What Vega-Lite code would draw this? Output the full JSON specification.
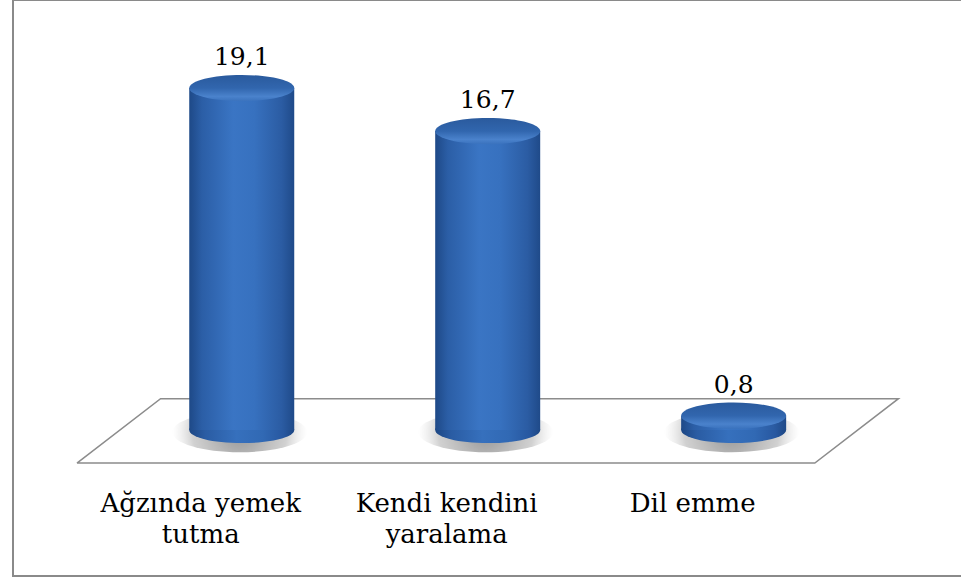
{
  "$schema": "https://vega.github.io/schema/vega-lite/v6.json",
  "width": 953,
  "height": 576,
  "autosize": {"type": "none"},
  "padding": {"left": 8, "top": 0, "right": 0, "bottom": 2},
  "background": "white",
  "config": {
    "view": {"stroke": null},
    "locale": {"number": {"decimal": ",", "thousands": ".", "grouping": [3], "currency": ["", " ₺"]}}
  },
  "datasets": {
    "behaviours": [
      {"order": 1, "behaviour": "Ağzında yemek\ntutma", "value": 19.1},
      {"order": 2, "behaviour": "Kendi kendini\nyaralama", "value": 16.7},
      {"order": 3, "behaviour": "Dil emme", "value": 0.8}
    ],
    "floor": [
      {"k": 0, "u": 0.33, "v": -1.85},
      {"k": 1, "u": 3.33, "v": -1.85},
      {"k": 2, "u": 3.67, "v": 1.75},
      {"k": 3, "u": 0.67, "v": 1.75},
      {"k": 4, "u": 0.33, "v": -1.85}
    ],
    "frame": [
      {"k": 0, "u": 3.99, "v": 24.022},
      {"k": 1, "u": 0.07, "v": 24.022},
      {"k": 2, "u": 0.07, "v": -8.157},
      {"k": 3, "u": 3.99, "v": -8.157}
    ]
  },
  "layer": [
    {
      "description": "outer frame, open on the right",
      "data": {"name": "frame"},
      "mark": {"type": "line", "color": "#8a8a8a", "strokeWidth": 2, "clip": false},
      "encoding": {
        "x": {"field": "u", "type": "quantitative", "scale": {"domain": [0.07, 3.904], "nice": false, "zero": false}, "axis": null},
        "y": {"field": "v", "type": "quantitative", "scale": {"domain": [-8.157, 24.022], "nice": false, "zero": false}, "axis": null},
        "order": {"field": "k"}
      }
    },
    {
      "description": "perspective floor under the cylinders",
      "data": {"name": "floor"},
      "mark": {"type": "line", "color": "#8c8c8c", "strokeWidth": 1.5},
      "encoding": {
        "x": {"field": "u", "type": "quantitative", "axis": null},
        "y": {"field": "v", "type": "quantitative", "axis": null},
        "order": {"field": "k"}
      }
    },
    {
      "description": "soft cast shadow around each cylinder base",
      "data": {"name": "behaviours"},
      "mark": {
        "type": "point",
        "shape": "M -1 0 A 1 0.3 0 1 1 1 0 A 1 0.3 0 1 1 -1 0 Z",
        "size": 18225,
        "filled": true,
        "opacity": 1,
        "strokeWidth": 0,
        "yOffset": 2,
        "xOffset": -2,
        "fill": {
          "gradient": "radial", "x1": 0.5, "y1": 0.5, "r1": 0, "x2": 0.5, "y2": 0.5, "r2": 0.5,
          "stops": [
            {"offset": 0, "color": "rgba(40,40,40,0.5)"},
            {"offset": 0.7, "color": "rgba(90,90,90,0.28)"},
            {"offset": 1, "color": "rgba(170,170,170,0)"}
          ]
        }
      },
      "encoding": {
        "x": {"field": "order", "type": "quantitative", "axis": null},
        "y": {"datum": 0, "type": "quantitative", "axis": null}
      }
    },
    {
      "description": "rounded base of each cylinder",
      "data": {"name": "behaviours"},
      "mark": {
        "type": "point",
        "shape": "M -1 0 A 1 0.25 0 1 1 1 0 A 1 0.25 0 1 1 -1 0 Z",
        "size": 11025,
        "filled": true,
        "opacity": 1,
        "strokeWidth": 0,
        "fill": {
          "gradient": "linear", "x1": 0, "y1": 0, "x2": 1, "y2": 0,
          "stops": [
            {"offset": 0, "color": "#1c4683"},
            {"offset": 0.15, "color": "#2a5ca3"},
            {"offset": 0.45, "color": "#3670bd"},
            {"offset": 0.7, "color": "#3169b4"},
            {"offset": 0.9, "color": "#2757a0"},
            {"offset": 1, "color": "#1c4683"}
          ]
        }
      },
      "encoding": {
        "x": {"field": "order", "type": "quantitative", "axis": null},
        "y": {"datum": 0, "type": "quantitative", "axis": null}
      }
    },
    {
      "description": "cylinder bodies",
      "data": {"name": "behaviours"},
      "mark": {
        "type": "bar",
        "width": 105,
        "fill": {
          "gradient": "linear", "x1": 0, "y1": 0, "x2": 1, "y2": 0,
          "stops": [
            {"offset": 0, "color": "#1e4987"},
            {"offset": 0.12, "color": "#2b5ea6"},
            {"offset": 0.42, "color": "#3a75c4"},
            {"offset": 0.62, "color": "#3771bf"},
            {"offset": 0.88, "color": "#2b5ca3"},
            {"offset": 1, "color": "#1f4a89"}
          ]
        }
      },
      "encoding": {
        "x": {"field": "order", "type": "quantitative", "axis": null},
        "y": {"field": "value", "type": "quantitative", "axis": null},
        "y2": {"datum": 0}
      }
    },
    {
      "description": "cylinder lids",
      "data": {"name": "behaviours"},
      "mark": {
        "type": "point",
        "shape": "M -1 0 A 1 0.25 0 1 1 1 0 A 1 0.25 0 1 1 -1 0 Z",
        "size": 11025,
        "filled": true,
        "opacity": 1,
        "strokeWidth": 0,
        "fill": {
          "gradient": "linear", "x1": 0, "y1": 0, "x2": 0, "y2": 1,
          "stops": [
            {"offset": 0, "color": "#2a5a9d"},
            {"offset": 0.5, "color": "#3166ae"},
            {"offset": 0.82, "color": "#4a82cc"},
            {"offset": 1, "color": "#3a72bd"}
          ]
        }
      },
      "encoding": {
        "x": {"field": "order", "type": "quantitative", "axis": null},
        "y": {"field": "value", "type": "quantitative", "axis": null}
      }
    },
    {
      "description": "value labels",
      "data": {"name": "behaviours"},
      "mark": {"type": "text", "font": "DejaVu Serif", "fontSize": 25, "color": "#000000", "align": "center", "baseline": "alphabetic", "dy": -23},
      "encoding": {
        "x": {"field": "order", "type": "quantitative", "axis": null},
        "y": {"field": "value", "type": "quantitative", "axis": null},
        "text": {"field": "value", "type": "quantitative", "format": ".1f"}
      }
    },
    {
      "description": "category names under the front edge of the floor",
      "data": {"name": "behaviours"},
      "mark": {"type": "text", "font": "DejaVu Serif", "fontSize": 26, "color": "#000000", "align": "center", "baseline": "alphabetic", "lineBreak": "\n", "lineHeight": 31, "dx": -41},
      "encoding": {
        "x": {"field": "order", "type": "quantitative", "axis": null},
        "y": {"datum": -4.58, "type": "quantitative", "axis": null},
        "text": {"field": "behaviour"}
      }
    }
  ]
}
